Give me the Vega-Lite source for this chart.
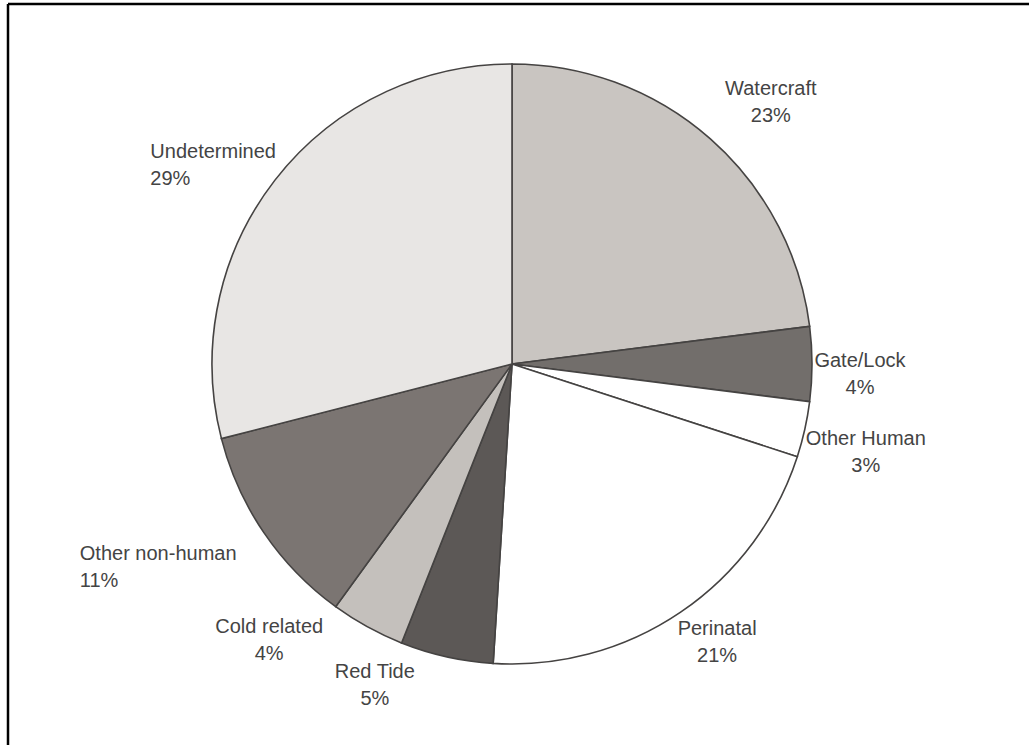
{
  "$schema": "https://vega.github.io/schema/vega-lite/v6.json",
  "width": 1021,
  "height": 741,
  "autosize": "none",
  "padding": {"left": 8, "top": 4, "right": 0, "bottom": 0},
  "background": "white",
  "config": {
    "view": {"stroke": null}
  },
  "data": {
    "values": [
      {"cause": "Watercraft", "share": 23, "label": ["Watercraft", "23%"]},
      {"cause": "Gate/Lock", "share": 4, "label": ["Gate/Lock", "4%"]},
      {"cause": "Other Human", "share": 3, "label": ["Other Human", "3%"]},
      {"cause": "Perinatal", "share": 21, "label": ["Perinatal", "21%"]},
      {"cause": "Red Tide", "share": 5, "label": ["Red Tide", "5%"]},
      {"cause": "Cold related", "share": 4, "label": ["Cold related", "4%"]},
      {"cause": "Other non-human", "share": 11, "label": ["Other non-human", "11%"]},
      {"cause": "Undetermined", "share": 29, "label": ["Undetermined", "29%"]}
    ]
  },
  "layer": [
    {
      "transform": [{"window": [{"op": "row_number", "as": "idx"}]}],
      "encoding": {
        "theta": {"field": "share", "type": "quantitative", "stack": true},
        "order": {"field": "idx", "type": "quantitative"}
      },
      "layer": [
        {
          "mark": {"type": "arc", "outerRadius": 300, "stroke": "#454342", "strokeWidth": 1.6, "xOffset": -6.5, "yOffset": -10.5},
          "encoding": {
            "color": {
              "field": "cause",
              "type": "nominal",
              "scale": {
                "domain": ["Watercraft", "Gate/Lock", "Other Human", "Perinatal", "Red Tide", "Cold related", "Other non-human", "Undetermined"],
                "range": ["#c9c5c1", "#726e6b", "#ffffff", "#ffffff", "#5c5856", "#c4c0bc", "#7b7572", "#e8e6e4"]
              },
              "legend": null
            }
          }
        },
        {
          "mark": {"type": "text", "radius": 340, "font": "Liberation Sans", "fontSize": 20, "fill": "#444444", "lineHeight": 27, "align": "center", "baseline": "middle", "dx": 34, "dy": -19.5, "xOffset": -6.5, "yOffset": -10.5},
          "encoding": {"detail": {"field": "cause"}, "text": {"condition": {"test": "datum.cause === 'Watercraft'", "field": "label"}, "value": ""}}
        },
        {
          "mark": {"type": "text", "radius": 340, "font": "Liberation Sans", "fontSize": 20, "fill": "#444444", "lineHeight": 27, "align": "center", "baseline": "middle", "dx": 8, "dy": -3, "xOffset": -6.5, "yOffset": -10.5},
          "encoding": {"detail": {"field": "cause"}, "text": {"condition": {"test": "datum.cause === 'Gate/Lock'", "field": "label"}, "value": ""}}
        },
        {
          "mark": {"type": "text", "radius": 340, "font": "Liberation Sans", "fontSize": 20, "fill": "#444444", "lineHeight": 27, "align": "center", "baseline": "middle", "dx": 22, "dy": 1, "xOffset": -6.5, "yOffset": -10.5},
          "encoding": {"detail": {"field": "cause"}, "text": {"condition": {"test": "datum.cause === 'Other Human'", "field": "label"}, "value": ""}}
        },
        {
          "mark": {"type": "text", "radius": 340, "font": "Liberation Sans", "fontSize": 20, "fill": "#444444", "lineHeight": 27, "align": "center", "baseline": "middle", "dx": 14, "dy": -16, "xOffset": -6.5, "yOffset": -10.5},
          "encoding": {"detail": {"field": "cause"}, "text": {"condition": {"test": "datum.cause === 'Perinatal'", "field": "label"}, "value": ""}}
        },
        {
          "mark": {"type": "text", "radius": 340, "font": "Liberation Sans", "fontSize": 20, "fill": "#444444", "lineHeight": 27, "align": "center", "baseline": "middle", "dx": -63, "dy": -24, "xOffset": -6.5, "yOffset": -10.5},
          "encoding": {"detail": {"field": "cause"}, "text": {"condition": {"test": "datum.cause === 'Red Tide'", "field": "label"}, "value": ""}}
        },
        {
          "mark": {"type": "text", "radius": 340, "font": "Liberation Sans", "fontSize": 20, "fill": "#444444", "lineHeight": 27, "align": "center", "baseline": "middle", "dx": -79, "dy": -35, "xOffset": -6.5, "yOffset": -10.5},
          "encoding": {"detail": {"field": "cause"}, "text": {"condition": {"test": "datum.cause === 'Cold related'", "field": "label"}, "value": ""}}
        },
        {
          "mark": {"type": "text", "radius": 340, "font": "Liberation Sans", "fontSize": 20, "fill": "#444444", "lineHeight": 27, "align": "left", "baseline": "middle", "dx": -151, "dy": -1, "xOffset": -6.5, "yOffset": -10.5},
          "encoding": {"detail": {"field": "cause"}, "text": {"condition": {"test": "datum.cause === 'Other non-human'", "field": "label"}, "value": ""}}
        },
        {
          "mark": {"type": "text", "radius": 340, "font": "Liberation Sans", "fontSize": 20, "fill": "#444444", "lineHeight": 27, "align": "left", "baseline": "middle", "dx": -93, "dy": -4, "xOffset": -6.5, "yOffset": -10.5},
          "encoding": {"detail": {"field": "cause"}, "text": {"condition": {"test": "datum.cause === 'Undetermined'", "field": "label"}, "value": ""}}
        }
      ]
    },
    {
      "data": {"values": [{}]},
      "mark": {"type": "rule", "stroke": "#000000", "strokeWidth": 2.5},
      "encoding": {"x": {"value": 0}, "x2": {"value": {"expr": "width"}}, "y": {"value": 0}}
    },
    {
      "data": {"values": [{}]},
      "mark": {"type": "rule", "stroke": "#000000", "strokeWidth": 2.5},
      "encoding": {"x": {"value": 0}, "y": {"value": 0}, "y2": {"value": {"expr": "height"}}}
    }
  ]
}
